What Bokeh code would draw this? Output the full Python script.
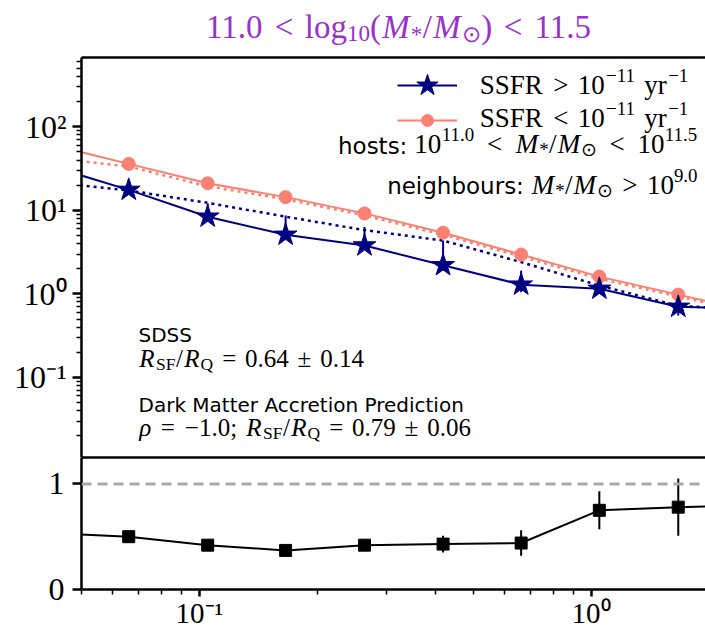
from bokeh.plotting import figure
from bokeh.layouts import column
from bokeh.models import (LogAxis, FixedTicker, Label, Legend, LegendItem,
                          Span, Range1d, CustomJSTickFormatter)
from bokeh.embed import file_html
from bokeh.resources import INLINE

# ---------------- data ----------------
r_bins = [0.042, 0.066, 0.105, 0.166, 0.264, 0.419, 0.663, 1.05, 1.67, 2.65]
sf_counts = [33.5, 17.6, 8.4, 5.1, 3.8, 2.2, 1.29, 1.15, 0.70, 0.66]
sf_err_lo = [30.0, 16.0, 7.5, 4.5, 3.4, 1.9, 1.05, 1.0, 0.55, 0.5]
sf_err_hi = [37.0, 19.5, 12.1, 8.7, 6.3, 4.35, 1.9, 1.3, 0.78, 0.75]
q_counts = [60.7, 36.0, 21.1, 14.4, 9.2, 5.4, 2.96, 1.61, 0.98, 0.60]
sf_pred = [21.6, 17.3, 12.3, 8.4, 5.8, 4.35, 2.4, 1.26, 0.72, 0.64]
q_pred = [42.4, 33.5, 19.4, 13.6, 8.7, 5.1, 2.8, 1.52, 0.93, 0.58]
ratio = [0.533, 0.50, 0.42, 0.37, 0.42, 0.43, 0.44, 0.75, 0.78, 0.80]
ratio_err = [0.02, 0.02, 0.05, 0.03, 0.05, 0.08, 0.12, 0.18, 0.27, 0.30]
ratio_lo = [v - e for v, e in zip(ratio, ratio_err)]
ratio_hi = [v + e for v, e in zip(ratio, ratio_err)]

x_lim = (0.05, 1.96)
y_lim_top = (0.011, 676)
y_lim_bot = (0, 1.25)
y_major_top = [0.1, 1, 10, 100]
y_minor_top = [k * 10.0 ** e for e in range(-2, 3) for k in range(2, 10)]
x_major = [0.1, 1]
x_minor = [k * 10.0 ** e for e in range(-2, 1) for k in range(2, 10)]

NAVY = "#000080"
SALMON = "#FA8072"
PURPLE = "#9932CC"
SERIF = "Liberation Serif"
SANS = "DejaVu Sans"

W_REG = {'(': 333, ')': 333, '*': 500, '.': 250, '/': 300, ':': 278, ';': 300,
         '<': 700, '=': 700, '>': 700, '±': 700, '−': 650, 'F': 600, 'Q': 750, 'R': 700,
         'S': 560, 'g': 500, 'l': 278, 'o': 500, 'r': 360, 'y': 520, '⊙': 838, 'ρ': 520}
for d in "0123456789":
    W_REG[d] = 500
W_IT = {'M': 900, 'R': 680, 'ρ': 540}


def rich(p, x, y, segs, size, align="left", color="black", space=0.28):
    pieces = []
    cx = 0.0
    for text, kind in segs:
        s = size * 0.7 if kind in ("sup", "sub") else size
        table = W_IT if kind == "i" else W_REG
        style = "italic" if kind == "i" else "normal"
        dy = 0.34 * size if kind == "sup" else (-0.2 * size if kind == "sub" else 0)
        for i, word in enumerate(text.split(" ")):
            if i > 0:
                cx += space * s
            if word:
                w = sum(table.get(c, 500) for c in word) / 1000 * s
                pieces.append((word, s, style, cx + w / 2, dy))
                cx += w
    if align == "right":
        x -= cx
    elif align == "center":
        x -= cx / 2
    fix = 0.4 * size
    for word, s, style, off, dy in pieces:
        p.add_layout(Label(x=x + off, y=y + dy + fix, x_units="screen", y_units="screen",
                           text=word, text_font=SERIF, text_font_size=f"{s:.1f}px",
                           text_font_style=style, text_color=color,
                           text_baseline="alphabetic", text_align="center"))
    return x


def sans(p, x, y, text, size=20, align="left"):
    p.add_layout(Label(x=x, y=y + 0.4 * size, x_units="screen", y_units="screen", text=text,
                       text_font=SANS, text_font_size=f"{size}px", text_color="black",
                       text_baseline="alphabetic", text_align=align))


log_fmt = CustomJSTickFormatter(code="""
const e = Math.round(Math.log10(tick));
const sup = {'-':'\u207b','0':'\u2070','1':'\u00b9','2':'\u00b2','3':'\u00b3','4':'\u2074',
             '5':'\u2075','6':'\u2076','7':'\u2077','8':'\u2078','9':'\u2079'};
return '10' + String(e).split('').map(c => sup[c]).join('');
""")


def style_axis(ax, size="32px"):
    ax.axis_line_width = 2.5
    ax.axis_line_color = "black"
    ax.major_tick_out = 9
    ax.major_tick_in = 0
    ax.minor_tick_out = 5
    ax.minor_tick_in = 0
    ax.major_tick_line_width = 2.5
    ax.minor_tick_line_width = 1.5
    ax.major_label_text_font = SERIF
    ax.major_label_text_font_size = size
    ax.major_label_text_color = "black"


def border_axis(cls):
    ax = cls(ticker=FixedTicker(ticks=[], minor_ticks=[]))
    ax.axis_line_width = 2.5
    ax.major_tick_line_color = None
    ax.minor_tick_line_color = None
    ax.major_label_text_font_size = "0px"
    ax.major_label_standoff = 0
    ax.major_tick_out = 0
    ax.minor_tick_out = 0
    return ax


def bare_fig(**kw):
    return figure(output_backend="svg", toolbar_location=None, **kw)


def glyph_legend(items, location, gw, gh, spacing=0):
    return Legend(items=[LegendItem(label=" ", renderers=r) for r in items],
                  location=location, padding=0, margin=0, spacing=spacing, glyph_width=gw,
                  glyph_height=gh, label_height=gh, label_width=1, label_standoff=0,
                  border_line_color=None, background_fill_alpha=0)


# ---------------- title strip ----------------
p0 = bare_fig(width=705, height=55, x_range=Range1d(0, 1), y_range=Range1d(0, 1),
              x_axis_location=None, y_axis_location=None,
              min_border_left=0, min_border_right=0, min_border_top=0, min_border_bottom=0)
p0.outline_line_color = None
p0.grid.visible = False

# ---------------- top panel ----------------
p1 = bare_fig(width=705, height=402, x_axis_type="log", y_axis_type="log",
              x_range=Range1d(*x_lim), y_range=Range1d(*y_lim_top), x_axis_location=None,
              min_border_left=81, min_border_right=0, min_border_top=2, min_border_bottom=0)
p1.outline_line_color = None
p1.grid.visible = False

ya = p1.left[0]
ya.ticker = FixedTicker(ticks=y_major_top, minor_ticks=y_minor_top)
ya.formatter = log_fmt
style_axis(ya)
ya.major_label_standoff = 6
p1.add_layout(border_axis(LogAxis), "above")
p1.add_layout(border_axis(LogAxis), "below")

# prediction (dotted)
p1.line(r_bins, q_pred, color=SALMON, line_width=2.5, line_dash="3 4")
p1.line(r_bins, sf_pred, color=NAVY, line_width=2.5, line_dash="3 4")
# measured
p1.segment(x0=r_bins, y0=sf_err_lo, x1=r_bins, y1=sf_err_hi, color=NAVY, line_width=2)
q_line = p1.line(r_bins, q_counts, color=SALMON, line_width=2)
q_pts = p1.scatter(r_bins, q_counts, marker="circle", size=13, color=SALMON)
sf_line = p1.line(r_bins, sf_counts, color=NAVY, line_width=2)
sf_pts = p1.scatter(r_bins, sf_counts, marker="star", size=24, color=NAVY)

# legend samples
solid_s = p1.line(x=[], y=[], color="black", line_width=2)
dot_s = p1.line(x=[], y=[], color="black", line_width=2.5, line_dash="3 4")

p1.add_layout(glyph_legend([[sf_line, sf_pts]], (316, 344), 60, 56))
p1.add_layout(glyph_legend([[q_line, q_pts]], (316, 322), 60, 30))
p1.add_layout(glyph_legend([[solid_s], [dot_s]], (14, 21), 32, 30, spacing=39))

# title (frames of the column are aligned at x = 81)
rich(p0, 317, 15, [("11.0 < log", "n"), ("10", "sub"), ("(", "n"), ("M", "i"), ("*", "sub"),
                   ("/", "n"), ("M", "i"), ("⊙", "sub"), (") < 11.5", "n")],
     33, align="center", color=PURPLE)

# upper-right legend texts
rich(p1, 397, 362, [("SSFR > 10", "n"), ("−11", "sup"), (" yr", "n"), ("−1", "sup")], 27)
rich(p1, 397, 328.7, [("SSFR < 10", "n"), ("−11", "sup"), (" yr", "n"), ("−1", "sup")], 27)
s = rich(p1, 616, 302.7, [("10", "n"), ("11.0", "sup"), (" < ", "n"), ("M", "i"), ("*", "sub"),
                          ("/", "n"), ("M", "i"), ("⊙", "sub"), (" < 10", "n"), ("11.5", "sup")],
         27, align="right", space=0.4)
sans(p1, s - 7, 302.7, "hosts:", size=23, align="right")
s = rich(p1, 616, 262, [("M", "i"), ("*", "sub"), ("/", "n"), ("M", "i"), ("⊙", "sub"),
                        (" > 10", "n"), ("9.0", "sup")], 27, align="right")
sans(p1, s - 7, 262, "neighbours:", size=23, align="right")

# lower-left legend texts
sans(p1, 57, 114.3, "SDSS")
rich(p1, 57, 88.7, [("R", "i"), ("SF", "sub"), ("/", "n"), ("R", "i"), ("Q", "sub"),
                    (" = 0.64 ± 0.14", "n")], 25)
sans(p1, 57, 44.3, "Dark Matter Accretion Prediction")
rich(p1, 57, 19.7, [("ρ", "i"), (" = −1.0;", "n"), (" R", "i"), ("SF", "sub"), ("/", "n"),
                    ("R", "i"), ("Q", "sub"), (" = 0.79 ± 0.06", "n")], 25)

# ---------------- bottom panel ----------------
p2 = bare_fig(width=705, height=174, x_axis_type="log", x_range=p1.x_range,
              y_range=Range1d(*y_lim_bot),
              min_border_left=81, min_border_right=0, min_border_top=0, min_border_bottom=40)
p2.outline_line_color = None
p2.grid.visible = False

xa = p2.below[0]
yb = p2.left[0]
p2.add_layout(border_axis(LogAxis), "above")

xa.ticker = FixedTicker(ticks=x_major, minor_ticks=x_minor)
xa.formatter = log_fmt
style_axis(xa, size="29px")
xa.major_tick_out = 7
xa.major_label_standoff = 0

yb.ticker = FixedTicker(ticks=[0, 1], minor_ticks=[])
style_axis(yb)
yb.major_label_standoff = 8

p2.add_layout(Span(location=1, dimension="width", line_color="#aaaaaa", line_width=3,
                   line_dash="10 6"))
p2.line(r_bins, ratio, color="black", line_width=2)
p2.segment(x0=r_bins, y0=ratio_lo, x1=r_bins, y1=ratio_hi, color="black", line_width=2)
p2.scatter(r_bins, ratio, marker="square", size=12, color="black")

layout = column(p0, p1, p2, spacing=0)
open("out.html", "w").write(file_html(layout, INLINE))
